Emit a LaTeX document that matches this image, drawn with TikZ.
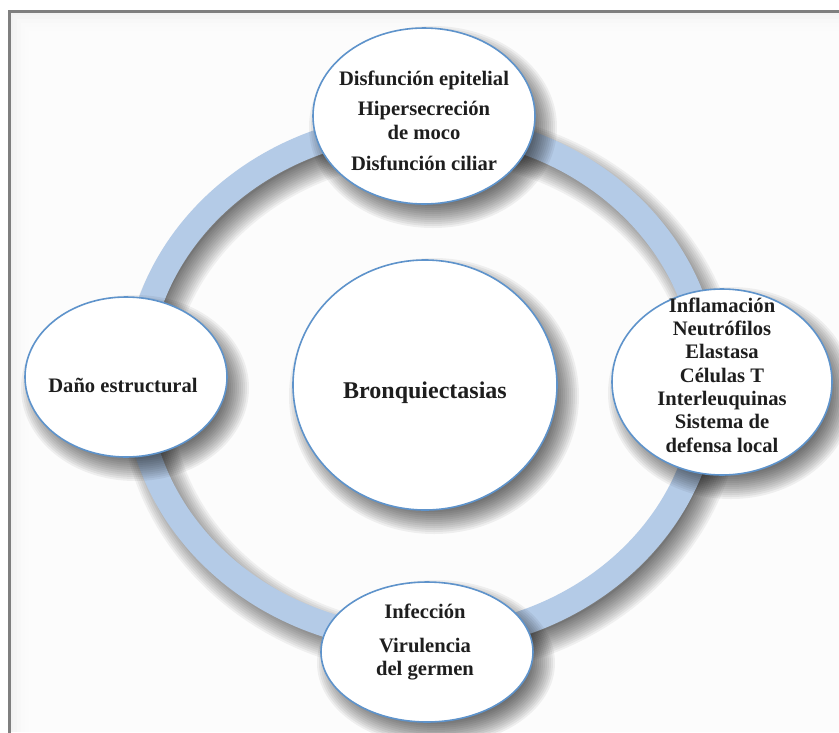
\documentclass[tikz,border=0pt]{standalone}
\usepackage{fontspec}
\setmainfont{Liberation Serif}
\usetikzlibrary{shapes.geometric}
\definecolor{ringblue}{HTML}{B4CBE7}
\definecolor{edgeblue}{HTML}{5E93CB}
\definecolor{framegray}{HTML}{7F7F7F}
\definecolor{txt}{HTML}{1E1E1E}
\newcommand\myshadow[4]{%
  \foreach \i in {0,...,13}{%
    \fill[black, opacity=0.055] (#1+9,#2+11) ellipse [x radius={(#3+13-2*\i)*1pt}, y radius={(#4+13-2*\i)*1pt}];
  }%
}
\begin{document}
\begin{tikzpicture}[x=1pt,y=-1pt,
  bubble/.style={ellipse, draw=edgeblue, line width=1.6pt, fill=white, inner sep=0pt},
  itemtext/.style={text=txt, font=\bfseries\fontsize{20.6}{23.3}\selectfont, align=center, inner sep=0pt},
  titletext/.style={text=txt, font=\bfseries\fontsize{24}{28}\selectfont, align=center, inner sep=0pt}]
\useasboundingbox (0,0) rectangle (839,732);
\fill[white] (0,0) rectangle (839,732);
% background panel
\fill[black!5] (9,11) rectangle (839,732);
\foreach \i in {1,...,8}{
  \fill[white, opacity=0.3] ({9+4*\i},{11+4*\i}) rectangle (860,760);
}
\draw[framegray, line width=2.5pt] (9.5,745) -- (9.5,11.5) -- (850,11.5);
% ring
\coordinate (rc) at (422,382);
\foreach \i in {0,...,13}{
  \fill[black, opacity=0.05, even odd rule]
    (431,393) ellipse [x radius={(298+13-2*\i)*1pt}, y radius={(270+13-2*\i)*1pt}]
    (431,393) ellipse [x radius={(273-13+2*\i)*1pt}, y radius={(245-13+2*\i)*1pt}];
}
\fill[ringblue, even odd rule]
  (rc) ellipse [x radius=298pt, y radius=270pt]
  (rc) ellipse [x radius=273pt, y radius=245pt];
% shadows of bubbles
\myshadow{424}{116}{111}{88}
\myshadow{722}{382}{110}{93}
\myshadow{126}{377}{101}{80}
\myshadow{427}{652}{106}{70}
\myshadow{425}{385}{132}{125}
% bubbles
\node[bubble, minimum width=222pt, minimum height=176pt] (epit) at (424,116) {};
\node[bubble, minimum width=220pt, minimum height=186pt] (infl) at (722,382) {};
\node[bubble, minimum width=202pt, minimum height=160pt] (dano) at (126,377) {};
\node[bubble, minimum width=212pt, minimum height=140pt] (infec) at (427,652) {};
\node[bubble, minimum width=264pt, minimum height=250pt] (bronq) at (425,385) {};
% texts
\node[itemtext] (tepit) at (424,121) {Disfunción epitelial\\[7pt]Hipersecreción\\de moco\\[8pt]Disfunción ciliar};
\node[itemtext] (tinfl) at (722,375) {Inflamación\\Neutrófilos\\Elastasa\\Células T\\Interleuquinas\\Sistema de\\defensa local};
\node[itemtext] (tdano) at (123,385) {Daño estructural};
\node[itemtext] (tinfec) at (425,642) {Infección\\[11pt]Virulencia\\del germen};
\node[titletext] (tbronq) at (425,393) {Bronquiectasias};
\end{tikzpicture}
\end{document}
